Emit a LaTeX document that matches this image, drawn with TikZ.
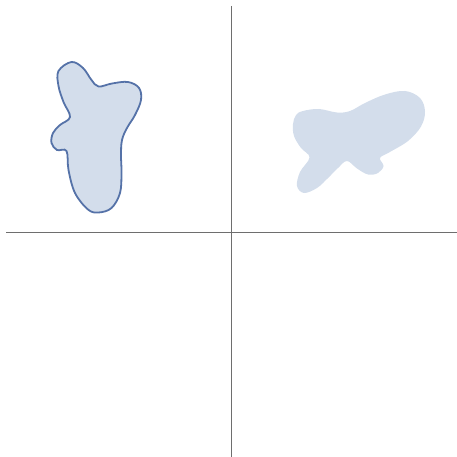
\documentclass[tikz,border=0pt]{standalone}
\usepackage{tikz}
\definecolor{blobblue}{RGB}{211,221,235}
\definecolor{edgeblue}{RGB}{85,114,168}
\definecolor{axisgray}{RGB}{110,110,110}
\tikzset{
  axisline/.style={axisgray,line width=0.8pt},
  blobfill/.style={fill=blobblue},
  blobline/.style={blobfill,draw=edgeblue,line width=1.8pt}
}

\begin{document}
\begin{tikzpicture}[x=1pt,y=-1pt]
  \useasboundingbox (0,0) rectangle (457,457);

  % Axes
  \draw[axisline] (231.5,6) -- (231.5,457);
  \draw[axisline] (6,232) -- (457,232);

  % Outlined shape, upper left
  \draw[blobline] plot[smooth cycle,tension=0.6] coordinates {
    (71.5,62) (83,68) (91.5,80) (98.5,86.5) (112,83.5) (128,82)
    (139,88) (141,100) (135,115) (127,128) (122,140) (121,155)
    (121.5,173) (120,193) (111.5,208) (98.5,212.5) (88,209.5)
    (75,193) (68.5,170) (66.5,151) (57,150) (51.5,143) (53,133)
    (60,125) (70,117) (63.5,102) (58.5,86) (58.5,71)};

  % Filled shape, upper right
  \fill[blobfill] plot[smooth cycle,tension=0.6] coordinates {
    (293,124) (296,115) (303,111) (319,109) (337,112.5) (350,111)
    (365,103) (385,94.5) (405,91) (420,98) (425,111.5) (421,126.5)
    (408,141) (389,152.5) (380,158) (383.5,166) (378,173) (368,174.5)
    (357,168.5) (347,161) (338,168) (328,178) (317,188) (304,193)
    (297,186) (300,172) (309.5,157.5) (301,148) (294,136)};
\end{tikzpicture}
\end{document}
